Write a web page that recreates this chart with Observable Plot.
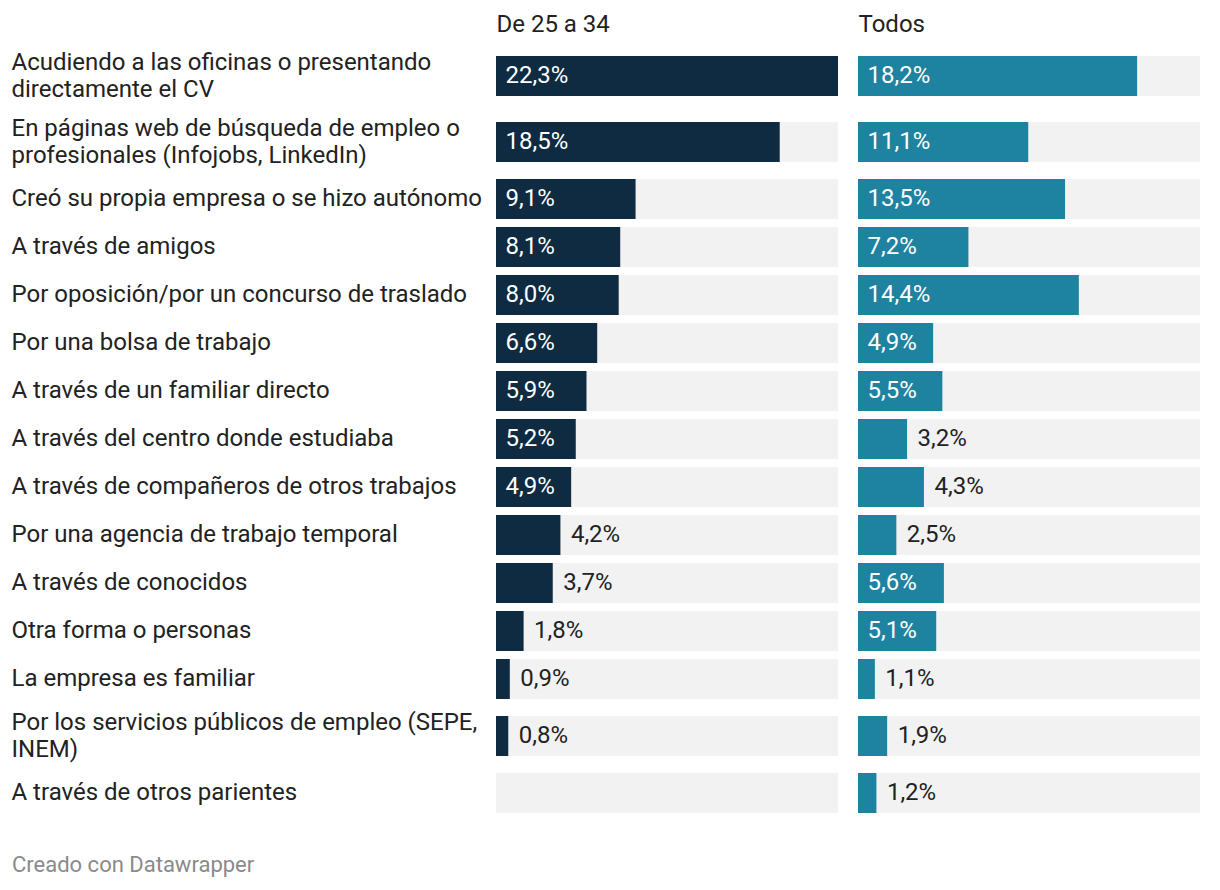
<!DOCTYPE html>
<html><head><meta charset="utf-8">
<script src="https://cdn.jsdelivr.net/npm/d3@7"></script>
<script src="https://cdn.jsdelivr.net/npm/@observablehq/plot@0.6"></script>
<style>
body{margin:0;background:#fff;font-family:Roboto,sans-serif;}
#chart svg{display:block;}
#footer{font-size:22px;line-height:26px;color:#8a8a8a;margin:22px 0 0 12px;font-family:Roboto,sans-serif;}
</style></head><body>
<div id="chart"></div>
<div id="footer">Creado con Datawrapper</div>
<script>
const categories = [
  "Acudiendo a las oficinas o presentando\ndirectamente el CV",
  "En páginas web de búsqueda de empleo o\nprofesionales (Infojobs, LinkedIn)",
  "Creó su propia empresa o se hizo autónomo",
  "A través de amigos",
  "Por oposición/por un concurso de traslado",
  "Por una bolsa de trabajo",
  "A través de un familiar directo",
  "A través del centro donde estudiaba",
  "A través de compañeros de otros trabajos",
  "Por una agencia de trabajo temporal",
  "A través de conocidos",
  "Otra forma o personas",
  "La empresa es familiar",
  "Por los servicios públicos de empleo (SEPE,\nINEM)",
  "A través de otros parientes"
];
const series = ["De 25 a 34", "Todos"];
const valuesDe25a34 = [22.3, 18.5, 9.1, 8.1, 8.0, 6.6, 5.9, 5.2, 4.9, 4.2, 3.7, 1.8, 0.9, 0.8, null];
const valuesTodos   = [18.2, 11.1, 13.5, 7.2, 14.4, 4.9, 5.5, 3.2, 4.3, 2.5, 5.6, 5.1, 1.1, 1.9, 1.2];
const colors = ["#0e2b41", "#1e82a1"];
const insideThreshold = 4.5;

// row layout (in pixel units of a linear y scale)
const barH = 40, gap = 8, twoLineH = 58;
let acc = 0;
const rows = categories.map(c => {
  const h = c.includes("\n") ? twoLineH : barH;
  const top = acc;
  acc += h + gap;
  return {cat: c, center: top + h / 2};
});
const total = acc - gap;

const long = [];
series.forEach((s, k) => {
  const vals = k === 0 ? valuesDe25a34 : valuesTodos;
  rows.forEach((r, i) => long.push({series: s, cat: r.cat, center: r.center, value: vals[i]}));
});
const xMax = d3.max(long, d => d.value);
const fmt = v => v.toFixed(1).replace(".", ",") + "%";
const withValue = long.filter(d => d.value != null);
const fs = 24;

const chart = Plot.plot({
  width: 1220,
  height: 47 + total + 17,
  marginTop: 47, marginBottom: 17, marginLeft: 496, marginRight: 20,
  style: {fontFamily: "Roboto, sans-serif", fontSize: fs + "px", color: "#222", background: "#fff"},
  fx: {domain: series, paddingInner: 20 / 362, paddingOuter: 0, axis: null},
  x: {domain: [0, xMax], axis: null},
  y: {domain: [0, total], reverse: true, axis: null},
  color: {domain: series, range: colors},
  marks: [
    Plot.rectX(long, {fx: "series", x1: 0, x2: xMax, y1: d => d.center - barH / 2, y2: d => d.center + barH / 2, fill: "#f2f2f2"}),
    Plot.rectX(withValue, {fx: "series", x: "value", y1: d => d.center - barH / 2, y2: d => d.center + barH / 2, fill: "series"}),
    Plot.text(withValue.filter(d => d.value >= insideThreshold), {fx: "series", x: 0, y: "center", text: d => fmt(d.value), textAnchor: "start", dx: 9, dy: -1, fill: "white", fontSize: fs}),
    Plot.text(withValue.filter(d => d.value < insideThreshold), {fx: "series", x: "value", y: "center", text: d => fmt(d.value), textAnchor: "start", dx: 10, dy: -1, fill: "#222", fontSize: fs}),
    Plot.text(rows, {fx: () => series[0], x: 0, y: "center", text: "cat", textAnchor: "start", dx: -485, dy: -2, lineHeight: 27 / fs, fill: "#222", fontSize: fs}),
    Plot.text(series, {fx: d => d, frameAnchor: "top-left", text: d => d, dy: -23, lineAnchor: "middle", textAnchor: "start", fill: "#222", fontSize: fs})
  ]
});
document.getElementById("chart").append(chart);
</script>
</body></html>
